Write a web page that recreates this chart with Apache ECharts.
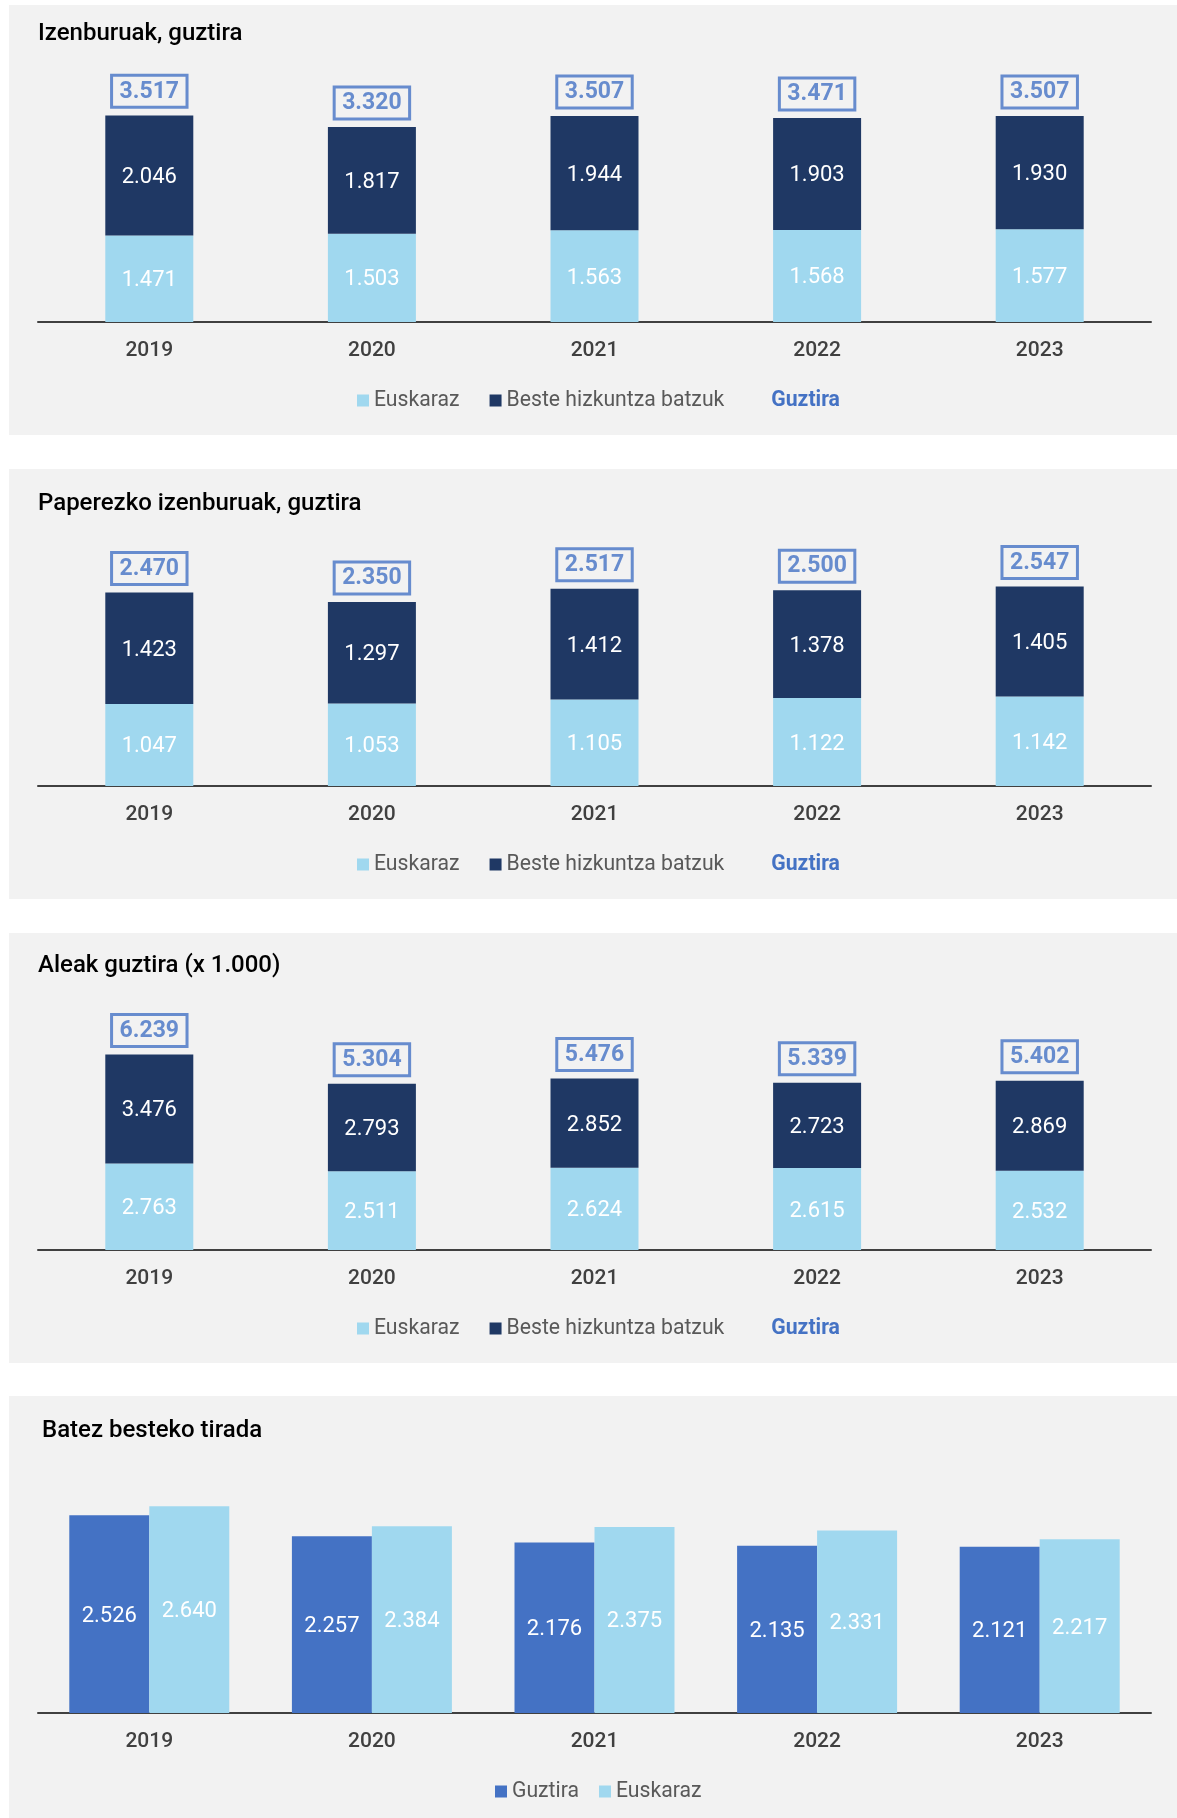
<!DOCTYPE html>
<html>
<head>
<meta charset="utf-8">
<script src="https://cdn.jsdelivr.net/npm/echarts@6/dist/echarts.min.js"></script>
<style>
  html, body { margin: 0; padding: 0; background: #ffffff; }
  body { width: 1177px; height: 1818px; position: relative; overflow: hidden; }
  .panel { position: absolute; left: 9px; width: 1168px; background: #F2F2F2; }
</style>
</head>
<body>
<div id="p1" class="panel" style="top:5px;height:430px;"></div>
<div id="p2" class="panel" style="top:469px;height:430px;"></div>
<div id="p3" class="panel" style="top:933px;height:430px;"></div>
<div id="p4" class="panel" style="top:1396px;height:422px;"></div>
<script>
// ---- data ----
const years = ['2019', '2020', '2021', '2022', '2023'];

const titlesEuskaraz = [1471, 1503, 1563, 1568, 1577];
const titlesOther = [2046, 1817, 1944, 1903, 1930];
const titlesTotal = [3517, 3320, 3507, 3471, 3507];

const paperEuskaraz = [1047, 1053, 1105, 1122, 1142];
const paperOther = [1423, 1297, 1412, 1378, 1405];
const paperTotal = [2470, 2350, 2517, 2500, 2547];

const copiesEuskaraz = [2763, 2511, 2624, 2615, 2532];
const copiesOther = [3476, 2793, 2852, 2723, 2869];
const copiesTotal = [6239, 5304, 5476, 5339, 5402];

const runTotal = [2526, 2257, 2176, 2135, 2121];
const runEuskaraz = [2640, 2384, 2375, 2331, 2217];

const panelTitles = [
  'Izenburuak, guztira',
  'Paperezko izenburuak, guztira',
  'Aleak guztira (x 1.000)',
  'Batez besteko tirada'
];

// ---- style ----
const C_LIGHT = '#A0D8EF';
const C_NAVY = '#1F3864';
const C_BLUE = '#4472C4';
const FONT = 'Roboto, "Noto Sans", sans-serif';

function fmt(v) {
  const s = String(Math.round(v));
  return s.replace(/\B(?=(\d{3})+(?!\d))/g, '.');
}

function baseOption(title, titleTop, titleLeft, yMax) {
  return {
    animation: false,
    backgroundColor: '#F2F2F2',
    textStyle: { fontFamily: FONT },
    title: {
      text: title, left: titleLeft, top: titleTop, padding: 0,
      textStyle: { fontFamily: FONT, fontSize: 24, fontWeight: 500, color: '#000000' }
    },
    grid: { left: 29, width: 1113, top: 82, height: 235, containLabel: false },
    xAxis: {
      type: 'category', data: years,
      axisLine: { show: true, lineStyle: { color: '#404040', width: 2 } },
      axisTick: { show: false },
      axisLabel: { margin: 18, fontFamily: FONT, fontSize: 21, fontWeight: 500, color: '#404040' }
    },
    yAxis: { type: 'value', min: 0, max: yMax, show: false, splitLine: { show: false } }
  };
}

function insideLabel() {
  return {
    show: true, position: 'inside', offset: [0, 2], color: '#ffffff',
    fontFamily: FONT, fontSize: 22,
    formatter: p => fmt(p.value)
  };
}

function stackedPanel(el, title, titleTop, yMax, eus, oth, tot) {
  const chart = echarts.init(document.getElementById(el), null, { renderer: 'canvas' });
  const opt = baseOption(title, titleTop, 29, yMax);
  opt.legend = {
    left: 348, top: 385, padding: 0, itemWidth: 12, itemHeight: 12, itemGap: 30,
    textStyle: { fontFamily: FONT, fontSize: 21.2, color: '#595959' },
    data: [
      { name: 'Euskaraz', icon: 'rect' },
      { name: 'Beste hizkuntza batzuk', icon: 'rect' },
      { name: 'Guztira', icon: 'none', textStyle: { color: C_BLUE, fontWeight: 'bold' } }
    ]
  };
  opt.series = [
    { name: 'Euskaraz', type: 'bar', stack: 'a', data: eus, barWidth: 88,
      itemStyle: { color: C_LIGHT }, label: insideLabel() },
    { name: 'Beste hizkuntza batzuk', type: 'bar', stack: 'a', data: oth, barWidth: 88,
      itemStyle: { color: C_NAVY }, label: insideLabel() },
    { name: 'Guztira', type: 'scatter', data: tot, symbolSize: 0.01,
      itemStyle: { color: C_BLUE },
      label: {
        show: true, position: 'top', distance: 8,
        formatter: p => fmt(p.value),
        fontFamily: FONT, fontSize: 23, fontWeight: 'bold', color: C_BLUE, lineHeight: 25,
        borderColor: C_BLUE, borderWidth: 1.5, padding: [4, 8, 3, 8],
        backgroundColor: 'transparent'
      },
      z: 5 }
  ];
  chart.setOption(opt);
}

stackedPanel('p1', panelTitles[0], 17, 4000, titlesEuskaraz, titlesOther, titlesTotal);
stackedPanel('p2', panelTitles[1], 23, 3000, paperEuskaraz, paperOther, paperTotal);
stackedPanel('p3', panelTitles[2], 21, 7500, copiesEuskaraz, copiesOther, copiesTotal);

(function () {
  const chart = echarts.init(document.getElementById('p4'), null, { renderer: 'canvas' });
  const opt = baseOption(panelTitles[3], 23, 33, 3000);
  opt.legend = {
    left: 486, top: 385, padding: 0, itemWidth: 12, itemHeight: 12, itemGap: 20,
    textStyle: { fontFamily: FONT, fontSize: 21.2, color: '#595959' },
    data: [{ name: 'Guztira', icon: 'rect' }, { name: 'Euskaraz', icon: 'rect' }]
  };
  opt.series = [
    { name: 'Guztira', type: 'bar', data: runTotal, barWidth: 80, barGap: '0%',
      itemStyle: { color: C_BLUE }, label: insideLabel() },
    { name: 'Euskaraz', type: 'bar', data: runEuskaraz, barWidth: 80, barGap: '0%',
      itemStyle: { color: C_LIGHT }, label: insideLabel() }
  ];
  chart.setOption(opt);
})();
</script>
</body>
</html>
